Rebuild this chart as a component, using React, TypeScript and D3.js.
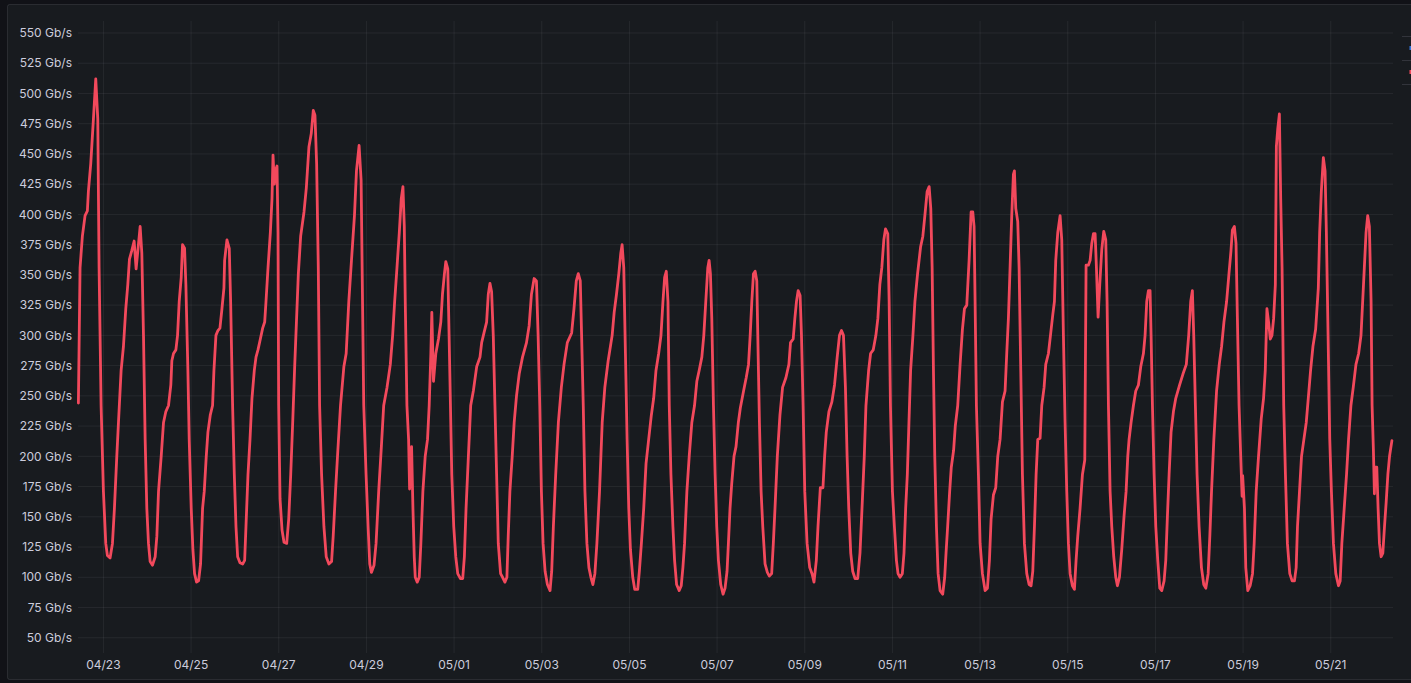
import React from "react";
import * as d3 from "d3";

const W = 1411;
const H = 683;

// days since 04/23 00:00
const times: number[] = [
  -0.571, -0.533, -0.48, -0.419, -0.366, -0.343, -0.289, -0.228, -0.175, -0.129, -0.099, -0.053, 0, 0.053, 0.091, 0.152, 0.206, 0.251, 0.305, 0.343, 0.404, 0.457, 0.51, 0.556, 0.594, 0.647, 0.701, 0.746, 0.838, 0.876, 0.914, 0.952, 0.99,
  1.028, 1.066, 1.12, 1.181, 1.219, 1.257, 1.318, 1.371, 1.424, 1.485, 1.538, 1.561, 1.599, 1.653, 1.691, 1.729, 1.775, 1.805, 1.851, 1.881, 1.927, 1.957,
  2.003, 2.041, 2.079, 2.125, 2.171, 2.216, 2.262, 2.3, 2.346, 2.384, 2.437, 2.49, 2.521, 2.567, 2.612, 2.658, 2.704, 2.749, 2.765, 2.818, 2.871, 2.902, 2.947, 2.986,
  3.024, 3.062, 3.115, 3.176, 3.222, 3.252, 3.298, 3.344, 3.389, 3.442, 3.481, 3.526, 3.58, 3.633, 3.679, 3.709, 3.755, 3.808, 3.846, 3.869, 3.899, 3.922, 3.96, 3.983, 3.998,
  4.029, 4.075, 4.12, 4.181, 4.227, 4.273, 4.318, 4.364, 4.447, 4.5, 4.576, 4.629, 4.689, 4.742, 4.788, 4.826, 4.864, 4.902, 4.932, 4.977,
  5.03, 5.083, 5.144, 5.205, 5.242, 5.295, 5.348, 5.409, 5.485, 5.538, 5.598, 5.659, 5.727, 5.773, 5.833, 5.879, 5.902, 5.939, 5.992,
  6.038, 6.076, 6.114, 6.174, 6.22, 6.28, 6.341, 6.394, 6.47, 6.545, 6.598, 6.644, 6.697, 6.75, 6.795, 6.833, 6.864, 6.886, 6.924, 6.962, 6.985,
  7.03, 7.061, 7.091, 7.114, 7.159, 7.205, 7.242, 7.288, 7.341, 7.394, 7.432, 7.47, 7.492, 7.53, 7.583, 7.644, 7.697, 7.735, 7.78, 7.811, 7.856, 7.886, 7.917, 7.947, 7.992,
  8.038, 8.083, 8.144, 8.197, 8.235, 8.273, 8.326, 8.379, 8.439, 8.515, 8.591, 8.629, 8.682, 8.742, 8.78, 8.818, 8.856, 8.894, 8.932, 8.97,
  9.008, 9.061, 9.106, 9.159, 9.205, 9.235, 9.273, 9.326, 9.371, 9.424, 9.485, 9.561, 9.652, 9.712, 9.765, 9.826, 9.879, 9.917, 9.955, 9.992,
  10.03, 10.076, 10.129, 10.189, 10.227, 10.265, 10.318, 10.379, 10.447, 10.508, 10.583, 10.682, 10.735, 10.788, 10.833, 10.879, 10.909, 10.947, 10.985,
  11.03, 11.076, 11.121, 11.167, 11.212, 11.258, 11.318, 11.379, 11.439, 11.515, 11.606, 11.652, 11.705, 11.758, 11.803, 11.833, 11.871, 11.909, 11.947, 11.985,
  12.023, 12.076, 12.121, 12.189, 12.227, 12.273, 12.326, 12.379, 12.439, 12.5, 12.553, 12.606, 12.667, 12.72, 12.765, 12.803, 12.841, 12.879, 12.909, 12.947, 12.992,
  13.03, 13.076, 13.136, 13.182, 13.22, 13.258, 13.311, 13.364, 13.424, 13.485, 13.538, 13.591, 13.652, 13.697, 13.742, 13.788, 13.818, 13.848, 13.879, 13.917, 13.955, 13.992,
  14.03, 14.083, 14.136, 14.182, 14.227, 14.258, 14.295, 14.333, 14.386, 14.432, 14.485, 14.53, 14.604, 14.664, 14.717, 14.755, 14.792, 14.83, 14.868, 14.906, 14.936, 14.966,
  15.004, 15.042, 15.094, 15.147, 15.192, 15.245, 15.283, 15.321, 15.374, 15.434, 15.494, 15.57, 15.638, 15.675, 15.736, 15.774, 15.811, 15.849, 15.894, 15.925, 15.962,
  16.0, 16.053, 16.113, 16.166, 16.211, 16.264, 16.302, 16.355, 16.415, 16.453, 16.491, 16.551, 16.619, 16.679, 16.74, 16.792, 16.838, 16.883, 16.928, 16.966,
  17.004, 17.049, 17.094, 17.147, 17.208, 17.26, 17.306, 17.358, 17.396, 17.457, 17.502, 17.562, 17.623, 17.668, 17.713, 17.758, 17.804, 17.842, 17.894, 17.925, 17.955,
  18.0, 18.045, 18.091, 18.128, 18.174, 18.226, 18.264, 18.302, 18.34, 18.377, 18.415, 18.468, 18.513, 18.574, 18.642, 18.694, 18.74, 18.792, 18.838, 18.875, 18.906, 18.936, 18.966,
  19.004, 19.042, 19.087, 19.147, 19.192, 19.223, 19.26, 19.306, 19.343, 19.396, 19.434, 19.49, 19.544, 19.597, 19.643, 19.696, 19.749, 19.795, 19.833, 19.863, 19.886, 19.916, 19.962,
  20.0, 20.053, 20.114, 20.167, 20.213, 20.251, 20.304, 20.357, 20.403, 20.456, 20.51, 20.57, 20.608, 20.646, 20.684, 20.722, 20.76, 20.783, 20.814, 20.859, 20.89, 20.928, 20.966,
  21.011, 21.065, 21.118, 21.163, 21.202, 21.24, 21.278, 21.316, 21.369, 21.407, 21.46, 21.498, 21.559, 21.612, 21.658, 21.696, 21.726, 21.772, 21.825, 21.863, 21.901, 21.939, 21.977,
  22.015, 22.053, 22.106, 22.152, 22.19, 22.228, 22.281, 22.335, 22.388, 22.418, 22.471, 22.51, 22.548, 22.586, 22.624, 22.654, 22.692, 22.73, 22.776, 22.821, 22.867, 22.897, 22.928, 22.966,
  23.004, 23.049, 23.095, 23.133, 23.179, 23.232, 23.285, 23.331, 23.369, 23.399, 23.445, 23.498, 23.551, 23.612, 23.665, 23.726, 23.764, 23.802, 23.84, 23.878, 23.901, 23.932, 23.97,
  24.008, 24.053, 24.099, 24.144, 24.198, 24.236, 24.274, 24.312, 24.357, 24.411, 24.464, 24.552, 24.628, 24.705, 24.759, 24.805, 24.843, 24.874, 24.912, 24.95, 24.996,
  25.05, 25.103, 25.149, 25.203, 25.241, 25.28, 25.333, 25.395, 25.456, 25.51, 25.563, 25.624, 25.678, 25.724, 25.755, 25.801, 25.839, 25.87, 25.908, 25.946, 25.977, 25.99,
  26.031, 26.061, 26.107, 26.161, 26.215, 26.253, 26.299, 26.352, 26.414, 26.467, 26.506, 26.544, 26.582, 26.621, 26.659, 26.697, 26.736, 26.759, 26.789, 26.828, 26.858, 26.889, 26.927, 26.966,
  27.011, 27.065, 27.119, 27.172, 27.211, 27.241, 27.287, 27.333, 27.387, 27.441, 27.487, 27.54, 27.594, 27.655, 27.716, 27.747, 27.785, 27.831, 27.87, 27.9, 27.939, 27.977,
  28.015, 28.061, 28.115, 28.176, 28.215, 28.253, 28.307, 28.36, 28.406, 28.46, 28.513, 28.575, 28.636, 28.69, 28.728, 28.766, 28.805, 28.843, 28.881, 28.92, 28.943, 28.973, 28.996,
  29.01, 29.05, 29.08, 29.111, 29.149, 29.188, 29.226, 29.264, 29.303, 29.341, 29.395,
];

// Gb/s
const values: number[] = [
  244, 356, 382, 399, 403, 419, 442, 479, 512, 479, 356, 242, 171, 128, 118, 116, 128, 157, 200, 228, 271, 291, 322, 342, 363, 370, 378, 355, 390, 368, 300, 214, 157,
  128, 113, 110, 117, 134, 171, 200, 228, 237, 242, 259, 279, 285, 288, 300, 328, 348, 375, 372, 342, 271, 214,
  157, 123, 103, 96, 97, 111, 157, 171, 200, 220, 234, 242, 271, 300, 304, 306, 322, 339, 362, 379, 372, 328, 242, 185,
  142, 117, 112, 111, 114, 142, 185, 214, 248, 271, 282, 288, 297, 306, 311, 328, 356, 385, 413, 449, 425, 436, 440, 385, 242,
  165, 139, 129, 128, 148, 185, 228, 275, 351, 382, 402, 422, 456, 467, 486, 482, 442, 356, 242, 185,
  142, 117, 111, 113, 134, 171, 205, 242, 274, 285, 328, 362, 399, 436, 457, 428, 356, 242, 185,
  142, 111, 104, 110, 128, 171, 208, 242, 257, 276, 300, 328, 356, 385, 413, 423, 390, 328, 242, 214, 173,
  208, 157, 117, 100, 96, 100, 128, 171, 200, 214, 242, 285, 319, 262, 285, 297, 311, 334, 351, 361, 355, 300, 242, 185, 142,
  117, 103, 99, 99, 117, 157, 200, 242, 254, 274, 282, 294, 302, 311, 334, 343, 336, 300, 242, 185,
  128, 103, 100, 96, 100, 134, 171, 200, 228, 250, 268, 282, 294, 308, 334, 347, 345, 300, 242, 171,
  128, 105, 94, 89, 105, 142, 185, 228, 257, 276, 294, 302, 322, 345, 351, 345, 300, 242, 171,
  128, 108, 100, 94, 103, 128, 171, 228, 257, 279, 300, 319, 334, 351, 368, 375, 356, 285, 214, 157,
  123, 100, 90, 90, 105, 128, 157, 194, 214, 234, 248, 271, 285, 300, 328, 348, 353, 328, 242, 185, 142,
  114, 94, 89, 93, 108, 128, 171, 200, 228, 242, 262, 271, 282, 300, 328, 356, 362, 351, 314, 242, 185, 142,
  114, 94, 86, 91, 105, 128, 157, 177, 200, 208, 228, 240, 254, 265, 276, 300, 328, 351, 353, 345, 285, 228,
  171, 142, 111, 104, 101, 103, 128, 157, 200, 234, 257, 265, 276, 294, 297, 314, 328, 337, 333, 300, 242,
  171, 128, 108, 103, 96, 114, 142, 174, 174, 200, 220, 237, 245, 259, 282, 300, 304, 300, 257, 200,
  157, 120, 105, 99, 99, 120, 157, 200, 242, 271, 285, 288, 300, 314, 342, 356, 379, 388, 384, 328, 242,
  171, 142, 114, 103, 100, 103, 120, 157, 185, 228, 271, 300, 328, 351, 373, 382, 399, 419, 423, 405, 356, 271, 200,
  142, 103, 89, 86, 100, 120, 142, 171, 191, 205, 225, 242, 276, 305, 322, 325, 362, 402, 402, 390, 328, 242, 185,
  128, 103, 89, 91, 114, 148, 168, 174, 200, 214, 245, 254, 285, 314, 356, 399, 433, 436, 405, 394, 356, 271, 185,
  128, 103, 94, 93, 105, 142, 185, 214, 215, 242, 257, 276, 285, 302, 317, 328, 362, 385, 399, 379, 300, 228, 171,
  128, 103, 93, 90, 114, 134, 157, 185, 197, 358, 358, 362, 376, 384, 384, 356, 315, 342, 371, 386, 379, 328, 242, 171,
  142, 117, 100, 93, 100, 123, 151, 171, 200, 214, 228, 242, 254, 259, 274, 285, 300, 328, 337, 337, 300, 242, 185,
  142, 114, 91, 89, 97, 114, 151, 185, 220, 237, 248, 259, 268, 276, 300, 328, 337, 300, 242, 185, 142,
  108, 94, 91, 103, 134, 171, 214, 254, 276, 291, 311, 328, 351, 370, 387, 390, 376, 314, 242, 200, 167, 184,
  157, 108, 89, 93, 103, 128, 171, 200, 231, 248, 271, 322, 311, 297, 300, 314, 342, 456, 470, 483, 413, 356, 242, 185,
  128, 103, 97, 97, 108, 142, 171, 200, 214, 228, 248, 271, 291, 305, 339, 385, 419, 447, 436, 385, 300, 214,
  171, 128, 103, 93, 97, 128, 157, 185, 214, 242, 257, 276, 285, 300, 328, 356, 385, 399, 390, 328, 242, 205, 169,
  191, 191, 157, 128, 117, 120, 142, 162, 185, 200, 213,
];

const yTicks: number[] = [50, 75, 100, 125, 150, 175, 200, 225, 250, 275, 300, 325, 350, 375, 400, 425, 450, 475, 500, 525, 550];
const xTickDays: number[] = [0, 2, 4, 6, 8, 10, 12, 14, 16, 18, 20, 22, 24, 26, 28];

const DAY = 86400000;
const base = Date.UTC(2025, 3, 23);

export default function App() {
  const left = 78;
  const right = 1393;
  const top = 21;
  const bottom = 653;

  const x = d3
    .scaleUtc()
    .domain([new Date(base - 0.58 * DAY), new Date(base + 29.42 * DAY)])
    .range([left, right]);
  const y = d3.scaleLinear().domain([37.4, 559.9]).range([bottom, top]);

  const pts = times.map((t, i) => ({ d: new Date(base + t * DAY), v: values[i] }));
  const line = d3
    .line<{ d: Date; v: number }>()
    .x((p) => x(p.d))
    .y((p) => y(p.v))
    .curve(d3.curveLinear);

  const fmt = d3.utcFormat("%m/%d");
  const textColor = "#ccccdc";
  const gridColor = "rgba(204,204,220,0.08)";

  return (
    <svg
      width={W}
      height={H}
      style={{ position: "absolute", left: 0, top: 0, background: "#111217" }}
      fontFamily="Inter, 'Noto Sans', sans-serif"
    >
      <rect x={7.5} y={4.5} width={1420} height={675} rx={2} fill="#181b1f" stroke="rgba(204,204,220,0.12)" />
      {yTicks.map((v) => (
        <g key={"y" + v}>
          <line x1={left} x2={right} y1={y(v)} y2={y(v)} stroke={gridColor} strokeWidth={1} />
          <text x={72} y={y(v)} dy="0.35em" textAnchor="end" fontSize={12} fill={textColor}>
            {v} Gb/s
          </text>
        </g>
      ))}
      {xTickDays.map((dd) => {
        const d = new Date(base + dd * DAY);
        return (
          <g key={"x" + dd}>
            <line x1={x(d)} x2={x(d)} y1={top} y2={bottom} stroke={gridColor} strokeWidth={1} />
            <text x={x(d)} y={665} dy="0.35em" textAnchor="middle" fontSize={12} fill={textColor}>
              {fmt(d)}
            </text>
          </g>
        );
      })}
      <path
        d={line(pts) || ""}
        fill="none"
        stroke="#F2495C"
        strokeWidth={2.8}
        strokeLinejoin="round"
        strokeLinecap="round"
      />
      {[36, 60, 84].map((yy) => (
        <line key={"l" + yy} x1={1402} x2={1411} y1={yy + 0.5} y2={yy + 0.5} stroke="rgba(204,204,220,0.15)" />
      ))}
      <rect x={1409.5} y={46} width={4} height={4} fill="#3274D9" />
      <rect x={1409.5} y={70} width={4} height={4} fill="#F2495C" />
    </svg>
  );
}
